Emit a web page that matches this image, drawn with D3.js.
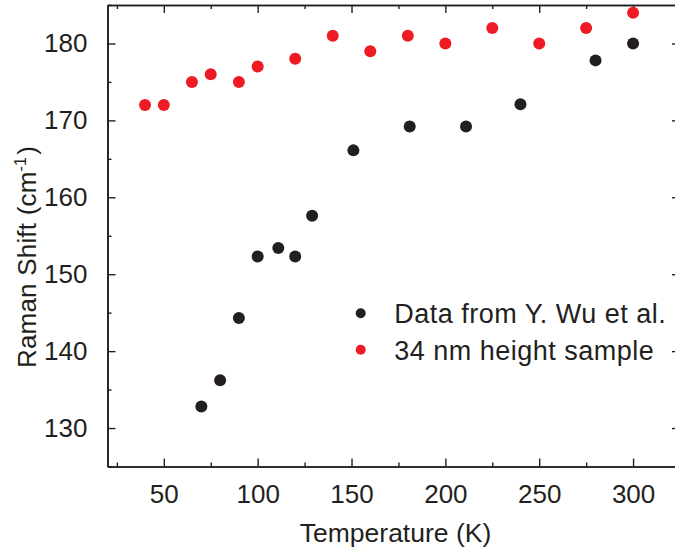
<!DOCTYPE html>
<html>
<head>
<meta charset="utf-8">
<script src="https://cdn.jsdelivr.net/npm/d3@7"></script>
<style>
  body { margin: 0; background: #fff; }
  text { font-family: "Liberation Sans", Arial, sans-serif; fill: #231f20; }
</style>
</head>
<body>
<div id="chart"></div>
<script>
// data
const wuTemp = [70, 80, 90, 100, 111, 120, 129, 151, 181, 211, 240, 280, 300];
const wuShift = [132.8, 136.2, 144.3, 152.3, 153.4, 152.3, 157.6, 166.1, 169.2, 169.2, 172.1, 177.8, 180.0];
const sampleTemp = [40, 50, 65, 75, 90, 100, 120, 140, 160, 180, 200, 225, 250, 275, 300];
const sampleShift = [172, 172, 175, 176, 175, 177, 178, 181, 179, 181, 180, 182, 180, 182, 184];
const xTicks = [50, 100, 150, 200, 250, 300];
const yTicks = [130, 140, 150, 160, 170, 180];
const legendLabels = ["Data from Y. Wu et al.", "34 nm height sample"];

const colors = ["#231f20", "#ed1c24"];

const canvW = 675, canvH = 552;
const margin = {top: 5, right: -5, bottom: 85.5, left: 107.5};
const width = canvW - margin.left - margin.right;
const height = canvH - margin.top - margin.bottom;

const svg = d3.select('#chart')
    .append('svg')
    .attr('width', canvW)
    .attr('height', canvH)
    .append('g')
    .attr('transform', `translate(${margin.left},${margin.top})`);

const xScale = d3.scaleLinear().domain([20, 325]).range([0, width]);
const yScale = d3.scaleLinear().domain([125, 185]).range([height, 0]);

const xMinor = d3.range(25, 325, 25).filter(v => !xTicks.includes(v));
const yMinor = d3.range(125, 186, 5).filter(v => !yTicks.includes(v));

// axes, ticks pointing inward
function styleAxis(g) {
    g.selectAll('.domain').attr('stroke', '#231f20').attr('stroke-width', 1.6);
    g.selectAll('.tick line').attr('stroke', '#231f20').attr('stroke-width', 1.4);
    g.selectAll('.tick text').style('font-size', '26px').attr('fill', '#231f20');
}

// bottom
svg.append('g')
    .attr('transform', `translate(0,${height})`)
    .call(d3.axisBottom(xScale).tickValues(xTicks).tickSizeInner(-8).tickSizeOuter(0).tickPadding(18))
    .call(styleAxis);
svg.append('g')
    .attr('transform', `translate(0,${height})`)
    .call(d3.axisBottom(xScale).tickValues(xMinor).tickSizeInner(-4).tickSizeOuter(0).tickFormat(''))
    .call(styleAxis);
// top
svg.append('g')
    .call(d3.axisTop(xScale).tickValues(xTicks).tickSizeInner(-8).tickSizeOuter(0).tickFormat(''))
    .call(styleAxis);
svg.append('g')
    .call(d3.axisTop(xScale).tickValues(xMinor).tickSizeInner(-4).tickSizeOuter(0).tickFormat(''))
    .call(styleAxis);
// left
svg.append('g')
    .call(d3.axisLeft(yScale).tickValues(yTicks).tickSizeInner(-8).tickSizeOuter(0).tickPadding(20))
    .call(styleAxis);
svg.append('g')
    .call(d3.axisLeft(yScale).tickValues(yMinor).tickSizeInner(-4).tickSizeOuter(0).tickFormat(''))
    .call(styleAxis);
// right
svg.append('g')
    .attr('transform', `translate(${width},0)`)
    .call(d3.axisRight(yScale).tickValues(yTicks).tickSizeInner(-8).tickSizeOuter(0).tickFormat(''))
    .call(styleAxis);
svg.append('g')
    .attr('transform', `translate(${width},0)`)
    .call(d3.axisRight(yScale).tickValues(yMinor).tickSizeInner(-4).tickSizeOuter(0).tickFormat(''))
    .call(styleAxis);

// x label
svg.append('text')
    .attr('x', (298.3 + 492.7) / 2 - margin.left)
    .attr('y', 541.5 - margin.top)
    .style('text-anchor', 'middle')
    .style('font-size', '26.5px')
    .text('Temperature (K)');

// y label
const yLabel = svg.append('text')
    .attr('transform', `translate(${36 - margin.left},${257 - margin.top}) rotate(-90)`)
    .style('text-anchor', 'middle')
    .style('font-size', '26px')
    .style('letter-spacing', '0.2px');
yLabel.append('tspan').text('Raman Shift (cm');
yLabel.append('tspan').attr('dy', -10).style('font-size', '16px').text('-1');
yLabel.append('tspan').attr('dy', 10).attr('dx', 2).text(')');

// points
const series = [
    {t: wuTemp, s: wuShift, c: colors[0]},
    {t: sampleTemp, s: sampleShift, c: colors[1]}
];
series.forEach(function (ser) {
    svg.append('g')
        .selectAll('circle')
        .data(ser.t.map((t, i) => ({t: t, s: ser.s[i]})))
        .enter()
        .append('circle')
        .attr('cx', d => xScale(d.t))
        .attr('cy', d => yScale(d.s))
        .attr('r', 6)
        .attr('fill', ser.c);
});

// legend
const legend = svg.append('g')
    .attr('transform', `translate(${360.7 - margin.left},${313.3 - margin.top})`);
legendLabels.forEach(function (lab, i) {
    legend.append('circle')
        .attr('cx', 0)
        .attr('cy', i * 36.5)
        .attr('r', 5)
        .attr('fill', colors[i]);
    legend.append('text')
        .attr('x', 33.5)
        .attr('y', i * 36.5 + 10)
        .style('font-size', '27px')
        .style('letter-spacing', '0.5px')
        .text(lab);
});
</script>
</body>
</html>
